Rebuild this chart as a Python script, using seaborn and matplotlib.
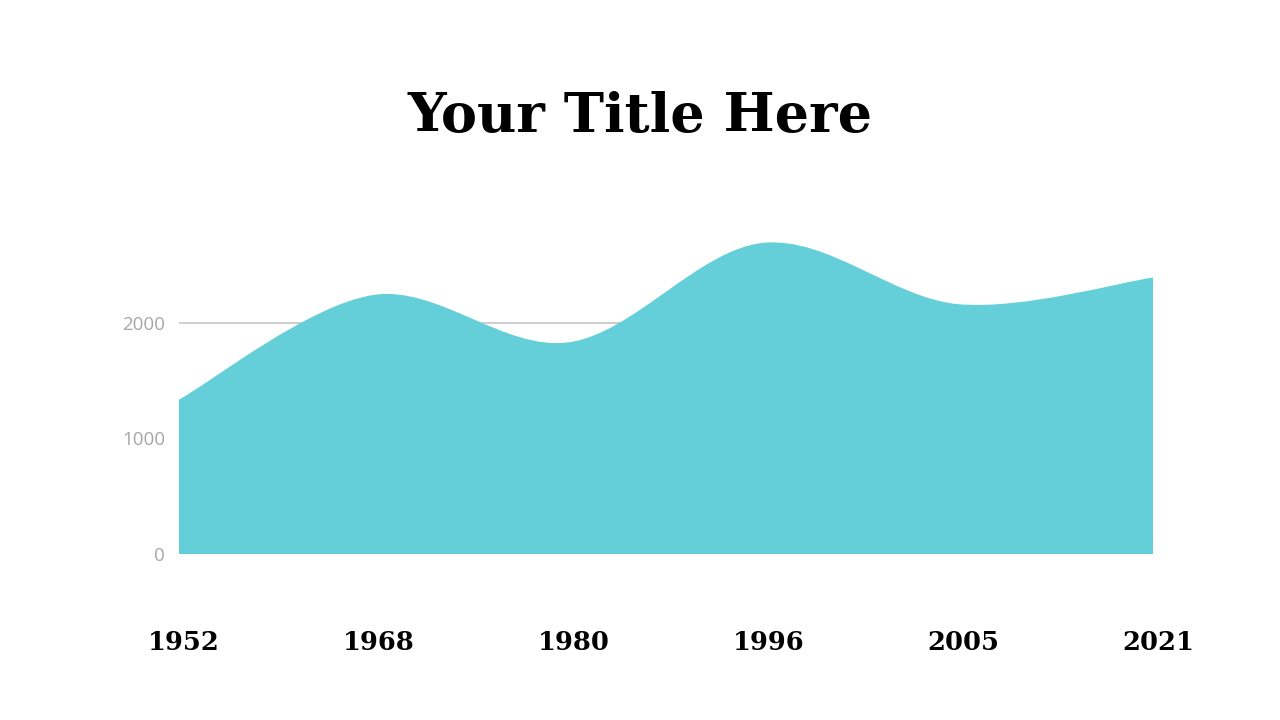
import numpy as np
import matplotlib
matplotlib.use("Agg")
import matplotlib.pyplot as plt
import matplotlib.transforms as mtransforms
from matplotlib.path import Path
from matplotlib.patches import PathPatch
import seaborn as sns

# data
years = ["1952", "1968", "1980", "1996", "2005", "2021"]
values = [1335, 2240, 1830, 2690, 2160, 2390]
y_ticks = [0, 1000, 2000]

fill_col = "#64CFD8"

sns.set_theme(style="white")
plt.rcParams["font.family"] = ["DejaVu Sans"]

fig = plt.figure(figsize=(12.8, 7.2), dpi=100)
ax = fig.add_axes([179 / 1280, 1 - 554 / 720, (1153 - 179) / 1280, (554 - 207) / 720])

pos = np.arange(len(years))
sns.lineplot(x=pos, y=values, ax=ax, color=fill_col, linewidth=0)

# smoothed outline, one cubic bezier per segment (catmull-rom style)
pts = np.column_stack([pos, values]).astype(float)
verts = [(pos[0], 0), tuple(pts[0])]
codes = [Path.MOVETO, Path.LINETO]
for i in range(len(pts) - 1):
    p_prev = pts[max(i - 1, 0)]
    p0 = pts[i]
    p1 = pts[i + 1]
    p_next = pts[min(i + 2, len(pts) - 1)]
    c1 = p0 + (p1 - p_prev) / 6
    c2 = p1 - (p_next - p0) / 6
    verts += [tuple(c1), tuple(c2), tuple(p1)]
    codes += [Path.CURVE4] * 3
verts += [(pos[-1], 0), (pos[0], 0)]
codes += [Path.LINETO, Path.CLOSEPOLY]
ax.add_patch(PathPatch(Path(verts, codes), facecolor=fill_col, edgecolor="none", zorder=3))

ax.set_xlim(pos[0], pos[-1])
ax.set_ylim(0, 3000)
ax.set_yticks(y_ticks)
ax.set_xticks(pos, years)
ax.yaxis.grid(True, color="#C9C9C9", linewidth=1.3)
ax.xaxis.grid(False)
ax.set_axisbelow(True)
sns.despine(ax=ax, left=True, bottom=True)

ax.tick_params(axis="y", length=0, pad=10, labelsize=13.5, labelcolor="#A6A6A6")
for t in ax.get_yticklabels():
    t.set_family(["Open Sans", "DejaVu Sans"])
ax.tick_params(axis="x", length=0, pad=55, labelsize=18.5, labelcolor="black")
shift = mtransforms.ScaledTranslation(5 / 100, 0, fig.dpi_scale_trans)
for t in ax.get_xticklabels():
    t.set_family(["DejaVu Serif"])
    t.set_fontweight("bold")
    t.set_transform(t.get_transform() + shift)

fig.text(0.5, 1 - 117 / 720, "Your Title Here", ha="center", va="center",
         fontsize=39, fontweight="bold", family=["DejaVu Serif"], color="black")

fig.savefig("out.png", dpi=100, facecolor="white")
